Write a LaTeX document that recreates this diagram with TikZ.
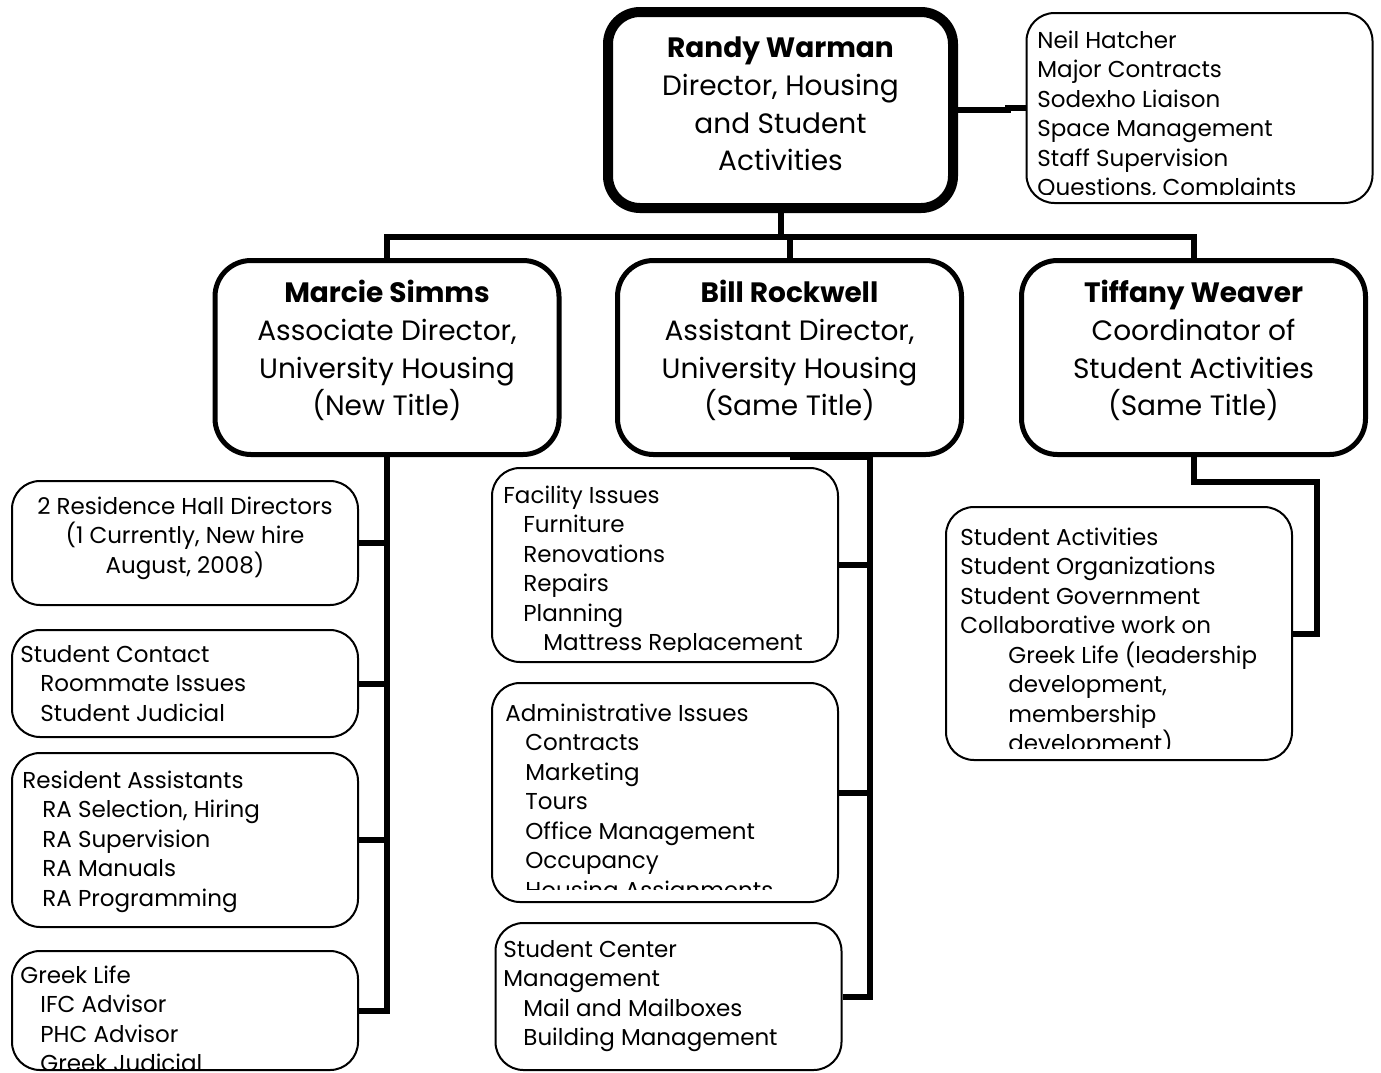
\documentclass[tikz,border=0pt]{standalone}
\usepackage{fontspec}
\setmainfont{Poppins}
\usetikzlibrary{positioning}

\newcommand\headfont{\fontsize{14}{18.85}\selectfont}
\newcommand\listfont{\fontsize{11.5}{14.75}\selectfont}
\newcommand\boxlines[1]{\parbox[t]{200pt}{\raggedright #1}}
\newcommand\indt{\hspace*{10pt}}

\begin{document}
\begin{tikzpicture}[x=0.5pt, y=-0.5pt,
    headbox/.style={draw, line width=2.5pt, rounded corners=18pt, minimum width=172pt, minimum height=97pt, inner sep=0pt, align=center, font=\headfont, text depth=9.5pt},
    subbox/.style={draw, line width=1pt, rounded corners=14pt, minimum width=173pt, inner sep=0pt},
    lines/.style={anchor=base west, inner sep=0pt, font=\listfont},
    conn/.style={line width=3pt}]
	\useasboundingbox (0,0) rectangle (1381,1072);

	% director and side box
	\node[headbox, line width=5pt, minimum width=172.5pt, minimum height=98pt, rounded corners=16pt, text depth=6pt] (randy) at (780.5,110) {\textbf{Randy Warman}\\Director, Housing\\and Student\\Activities};
	\node[subbox, minimum height=95pt] (neil) at (1199.5,108) {};

	% second row
	\node[headbox] (marcie) at (387,357.5) {\textbf{Marcie Simms}\\Associate Director,\\University Housing\\(New Title)};
	\node[headbox] (bill) at (789.5,357.5) {\textbf{Bill Rockwell}\\Assistant Director,\\University Housing\\(Same Title)};
	\node[headbox] (tiffany) at (1193.5,357.5) {\textbf{Tiffany Weaver}\\Coordinator of\\Student Activities\\(Same Title)};

	% duty boxes
	\node[subbox, minimum height=62pt] (halls) at (185,543) {};
	\node[subbox, minimum height=53.5pt] (contact) at (185,683.5) {};
	\node[subbox, minimum height=87pt] (ras) at (185,840) {};
	\node[subbox, minimum height=59.5pt] (greek) at (185,1010.5) {};

	\node[subbox, minimum height=97pt] (facility) at (665,565) {};
	\node[subbox, minimum height=109.5pt] (admin) at (665,792.5) {};
	\node[subbox, minimum height=73.5pt] (stucenter) at (668.5,996.5) {};

	\node[subbox, minimum height=126.5pt] (activities) at (1119,633.5) {};

	% box texts
	\begin{scope}
		\clip (neil.north west) rectangle ([yshift=5pt]neil.south east);
		\node[lines] (neiltext) at (1037,48) {\boxlines{Neil Hatcher\\Major Contracts\\Sodexho Liaison\\Space Management\\Staff Supervision\\Questions, Complaints}};
	\end{scope}
	\node[lines, anchor=base] (hallstext) at (185,514) {\parbox[t]{170pt}{\centering 2 Residence Hall Directors\\(1 Currently, New hire\\August, 2008)}};
	\node[lines] (contacttext) at (20,662) {\boxlines{Student Contact\\\indt Roommate Issues\\\indt Student Judicial}};
	\node[lines] (rastext) at (22,788) {\boxlines{Resident Assistants\\\indt RA Selection, Hiring\\\indt RA Supervision\\\indt RA Manuals\\\indt RA Programming}};
	\begin{scope}
		\clip (greek.north west) rectangle ([yshift=1pt]greek.south east);
		\node[lines] (greektext) at (20,983) {\boxlines{Greek Life\\\indt IFC Advisor\\\indt PHC Advisor\\\indt Greek Judicial}};
	\end{scope}
	\begin{scope}
		\clip (facility.north west) rectangle ([yshift=6pt]facility.south east);
		\node[lines] (facilitytext) at (503,503) {\boxlines{Facility Issues\\\indt Furniture\\\indt Renovations\\\indt Repairs\\\indt Planning\\\indt\indt Mattress Replacement}};
	\end{scope}
	\begin{scope}
		\clip (admin.north west) rectangle ([yshift=7pt]admin.south east);
		\node[lines] (admintext) at (505,721) {\boxlines{Administrative Issues\\\indt Contracts\\\indt Marketing\\\indt Tours\\\indt Office Management\\\indt Occupancy\\\indt Housing Assignments}};
	\end{scope}
	\node[lines] (stucentertext) at (503,957) {\boxlines{Student Center\\Management\\\indt Mail and Mailboxes\\\indt Building Management}};
	\begin{scope}
		\clip (activities.north west) rectangle ([yshift=6.5pt]activities.south east);
		\node[lines] (activitiestext) at (960,545) {\boxlines{Student Activities\\Student Organizations\\Student Government\\Collaborative work on\\\hspace*{24pt}Greek Life (leadership\\\hspace*{24pt}development,\\\hspace*{24pt}membership\\\hspace*{24pt}development)}};
	\end{scope}

	% connectors
	\coordinate (bus) at (0,237);
	\coordinate (bspine) at (870,0);
	\coordinate (tspine) at (1317,0);
	\draw[conn] (randy.east) -- ++(50,0) |- (neil.west);
	\draw[conn] (randy.south) -- (randy.south |- bus);
	\draw[conn] (marcie.north) -- (marcie.north |- bus) -- (tiffany.north |- bus) -- (tiffany.north);
	\draw[conn] (bill.north) -- (bill.north |- bus);

	\draw[conn] (marcie.south) -- (marcie.south |- greek.east) -- (greek.east);
	\foreach \b in {halls,contact,ras}
		\draw[conn] (\b.east) -- (\b.east -| marcie.south);

	\draw[conn] (bill.south) -- (bspine |- bill.south) -- (bspine |- stucenter.east) -- (stucenter.east);
	\foreach \b in {facility,admin}
		\draw[conn] (\b.east) -- (\b.east -| bspine);

	\draw[conn] (tiffany.south) -- ++(0,25) -| (tspine |- activities.east) -- (activities.east);
\end{tikzpicture}
\end{document}
